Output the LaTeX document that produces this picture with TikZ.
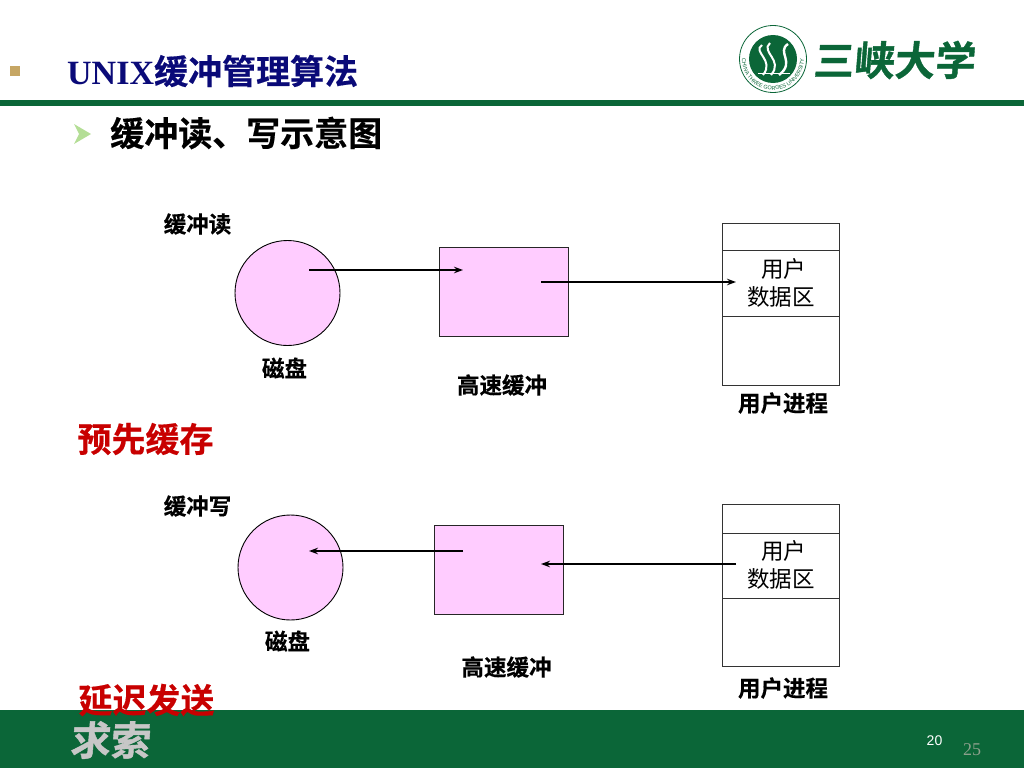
\documentclass[tikz,border=0pt]{standalone}
\usepackage{fontspec}
\setmainfont{Liberation Sans}
\newfontfamily\cjkb[FakeBold=0.4]{Noto Sans CJK SC Bold}
\newfontfamily\cjkbrand[FakeBold=1]{Noto Sans CJK SC Bold}
\newfontfamily\cjkr{Noto Sans CJK SC}
\newfontfamily\serifb{Liberation Serif Bold}
\newfontfamily\serifr{Liberation Serif}
\usetikzlibrary{arrows.meta,decorations.text}
\definecolor{sxgreen}{HTML}{0B6638}
\definecolor{softpink}{HTML}{FFCCFF}
\definecolor{navy}{HTML}{0A0A78}
\definecolor{alert}{HTML}{C80000}
\tikzset{
  x=1pt,y=-1pt,
  shape box/.style={draw=black!85,line width=0.9pt,fill=softpink,minimum width=#1,inner sep=0pt,outer sep=0pt},
  disk/.style={circle,draw=black,line width=0.9pt,fill=softpink,minimum size=105pt,inner sep=0pt,outer sep=0pt},
  cell/.style={draw=black!80,line width=0.9pt,fill=white,minimum width=117pt,inner sep=0pt,outer sep=0pt},
  caption/.style={font=\cjkb\fontsize{22.5}{26}\selectfont,text=black,inner sep=0pt},
  hint/.style={font=\cjkb\fontsize{34}{38}\selectfont,text=alert,inner sep=0pt},
  inner text/.style={font=\cjkr\fontsize{22.5}{28}\selectfont,align=center,inner sep=0pt},
  link/.style={line width=2.4pt,-{Stealth[length=9pt,width=6.5pt]}},
}
\begin{document}
\begin{tikzpicture}
\useasboundingbox (0,0) rectangle (1024,768);
% bars
\fill[sxgreen] (0,100) rectangle (1024,106);
\fill[sxgreen] (0,710) rectangle (1024,768);
% headings
\node[minimum size=10pt,inner sep=0pt,fill={rgb,255:red,198;green,166;blue,100}] (bullet) at (15,71) {};
\node[anchor=west,inner sep=0pt,text=navy] (title) at (67,71) {\serifb\fontsize{34}{38}\selectfont UNIX\cjkb 缓冲管理算法};
\fill[fill={rgb,255:red,180;green,222;blue,150}] (74,124) -- (91,134) -- (74,144) -- (79,134) -- cycle;
\node[anchor=west,inner sep=0pt,font=\cjkb\fontsize{34}{38}\selectfont] (sub) at (110,133) {缓冲读、写示意图};
% logo
\node[circle,draw=sxgreen,line width=0.8pt,minimum size=67pt,inner sep=0pt] (seal) at (773,59) {};
\node[circle,fill=sxgreen,minimum size=48pt,inner sep=0pt] (sealin) at (773,59) {};
\draw[white,line width=2pt] (762,45) .. controls (752,52) and (775,60) .. (763,75);
\draw[white,line width=2pt] (770,43) .. controls (760,52) and (784,60) .. (771,75);
\draw[white,line width=2.4pt] (788,44) .. controls (776,52) and (796,62) .. (779,75);
\draw[white,line width=1pt] (758,73) -- (790,73);
\path[postaction={decorate},decoration={text along path,text align=center,
  text={|\fontsize{5.5}{6}\selectfont\color{sxgreen}|CHINA THREE GORGES UNIVERSITY}}]
  (742,59) arc[start angle=180,end angle=0,radius=31];
\node[anchor=west,inner sep=0pt,text=sxgreen,font=\cjkbrand\fontsize{40.5}{44}\selectfont,xslant=0.08] (brand) at (814,60) {三峡大学};
% read diagram
\node[caption] (readlabel) at (197.5,224) {缓冲读};
\node[disk] (disk1) at (287.5,293) {};
\node[shape box=129pt,minimum height=89pt] (cache1) at (503.5,292) {};
\node[cell,minimum height=162pt] (proc1) at (780.5,304) {};
\node[cell,minimum height=66pt] (data1) at (780.5,283) {};
\node[inner text] (dtext1) at (781,283) {\hspace*{5pt}用户\\数据区};
\node[caption] (disklabel1) at (284.5,368) {磁盘};
\node[caption] (cachelabel1) at (502,385) {高速缓冲};
\node[caption] (proclabel1) at (783,403) {用户进程};
\coordinate (r1) at (309,270);
\coordinate (r2) at (463,270);
\coordinate (r3) at (541,282);
\coordinate (r4) at (736,282);
\draw[link] (r1) -- (r2);
\draw[link] (r3) -- (r4);
\node[hint] (hint1) at (145.5,439) {预先缓存};
% write diagram
\node[caption] (writelabel) at (197.5,506) {缓冲写};
\node[disk] (disk2) at (290.5,567.5) {};
\node[shape box=129pt,minimum height=89pt] (cache2) at (499,569.5) {};
\node[cell,minimum height=162pt] (proc2) at (780.5,585.5) {};
\node[cell,minimum height=65pt] (data2) at (780.5,565.5) {};
\node[inner text] (dtext2) at (781,565) {\hspace*{5pt}用户\\数据区};
\node[caption] (disklabel2) at (287.5,641) {磁盘};
\node[caption] (cachelabel2) at (506.5,667) {高速缓冲};
\node[caption] (proclabel2) at (783,688) {用户进程};
\coordinate (w1) at (463,551);
\coordinate (w2) at (309,551);
\coordinate (w3) at (736,564);
\coordinate (w4) at (541,564);
\draw[link] (w1) -- (w2);
\draw[link] (w3) -- (w4);
% footer
\node[inner sep=0pt,anchor=west,font=\cjkbrand\fontsize{40}{44}\selectfont,text=black!22,xslant=0.08] (motto) at (71,740) {求索};
\node[hint] (hint2) at (146.5,700) {延迟发送};
\node[text=white,inner sep=0pt,font=\fontsize{14}{16}\selectfont] (pagea) at (934.5,741) {20};
\node[inner sep=0pt,font=\serifr\fontsize{18}{20}\selectfont,text={rgb,255:red,140;green,160;blue,140}] (pageb) at (972,750) {25};
\end{tikzpicture}
\end{document}
